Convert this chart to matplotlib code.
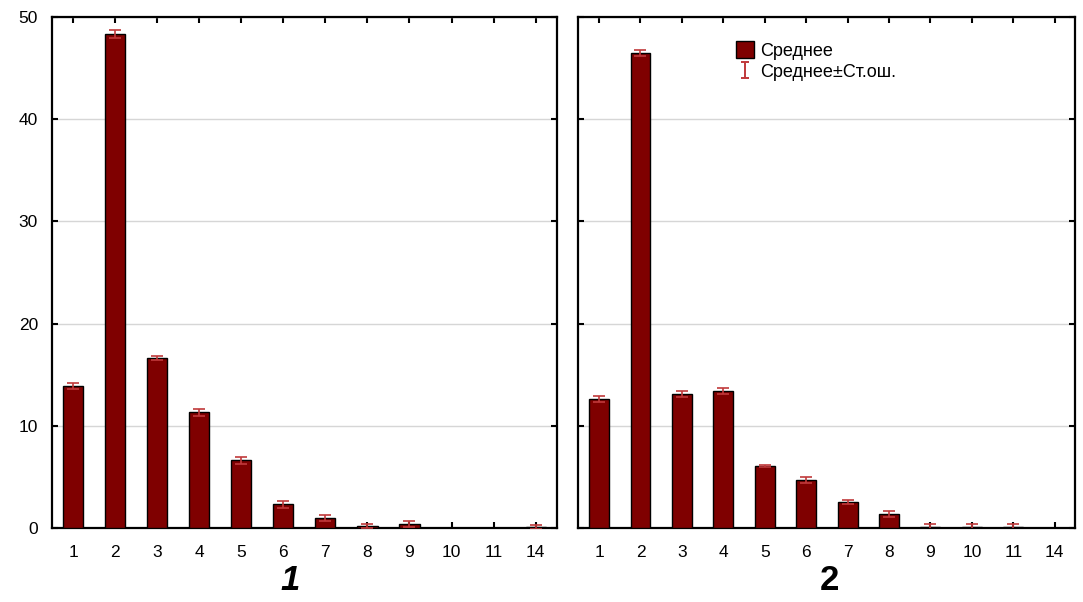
import matplotlib.pyplot as plt
from matplotlib.lines import Line2D
from matplotlib.patches import Patch
from matplotlib.path import Path
import numpy as np

plt.rcParams["font.family"] = ["Liberation Sans", "DejaVu Sans"]

categories = ["1", "2", "3", "4", "5", "6", "7", "8", "9", "10", "11", "14"]
mean_1 = [13.9, 48.3, 16.6, 11.3, 6.6, 2.3, 1.0, 0.2, 0.4, 0.0, 0.0, 0.1]
err_1 = [0.3, 0.4, 0.2, 0.3, 0.3, 0.3, 0.3, 0.2, 0.3, 0.0, 0.0, 0.2]
mean_2 = [12.6, 46.5, 13.1, 13.4, 6.1, 4.7, 2.5, 1.4, 0.1, 0.1, 0.1, 0.0]
err_2 = [0.3, 0.3, 0.3, 0.3, 0.1, 0.3, 0.2, 0.3, 0.3, 0.3, 0.3, 0.0]
panel_labels = ["1", "2"]

bar_color = "#7f0000"
err_color = "#c0393b"

fig = plt.figure(figsize=(10.83, 6.02), dpi=100)
ax1 = fig.add_axes([0.048, 0.123, 0.466, 0.849])
ax2 = fig.add_axes([0.534, 0.123, 0.459, 0.849])

x = np.arange(len(categories))
for ax, mean, err in [(ax1, mean_1, err_1), (ax2, mean_2, err_2)]:
    ax.bar(x, mean, width=0.48, color=bar_color, edgecolor="black", linewidth=1.0, zorder=3)
    e = np.array(err)
    m = np.array(mean)
    mask = e > 0
    ax.errorbar(x[mask], m[mask], yerr=e[mask], fmt="none", ecolor=err_color,
                elinewidth=1.2, capsize=4, capthick=1.2, zorder=4)
    ax.set_xlim(-0.5, 11.5)
    ax.set_ylim(0, 50)
    ax.set_yticks([0, 10, 20, 30, 40, 50])
    ax.set_xticks(x)
    ax.set_xticklabels(categories, fontsize=12.5)
    ax.grid(axis="y", color="#d6d6d6", linewidth=1.0, zorder=0)
    ax.tick_params(direction="in", top=True, right=True, length=4, width=1.5, labelsize=12.5)
    ax.tick_params(axis="x", pad=12)
    for s in ax.spines.values():
        s.set_linewidth(1.6)

ax1.tick_params(axis="y", pad=10)
ax2.set_yticklabels([])

fig.text(0.268, 0.02, panel_labels[0], fontsize=25, fontweight="bold", style="italic", ha="center")
fig.text(0.766, 0.02, panel_labels[1], fontsize=25, fontweight="bold", ha="center")

# "I"-shaped marker for the error-bar legend entry
i_path = Path([(-0.5, 1), (0.5, 1), (0, 1), (0, -1), (-0.5, -1), (0.5, -1)],
              [Path.MOVETO, Path.LINETO, Path.MOVETO, Path.LINETO, Path.MOVETO, Path.LINETO])
handles = [
    Patch(facecolor=bar_color, edgecolor="black"),
    Line2D([], [], linestyle="none", marker=i_path, markersize=12,
           markeredgecolor=err_color, markerfacecolor="none", markeredgewidth=1.4),
]
ax2.legend(handles, ["Среднее", "Среднее±Ст.ош."], loc="upper left",
           bbox_to_anchor=(0.285, 0.985), frameon=False, fontsize=13,
           handlelength=1.0, handleheight=1.1, handletextpad=0.3, labelspacing=0.15)

fig.savefig("out.png", dpi=100)
